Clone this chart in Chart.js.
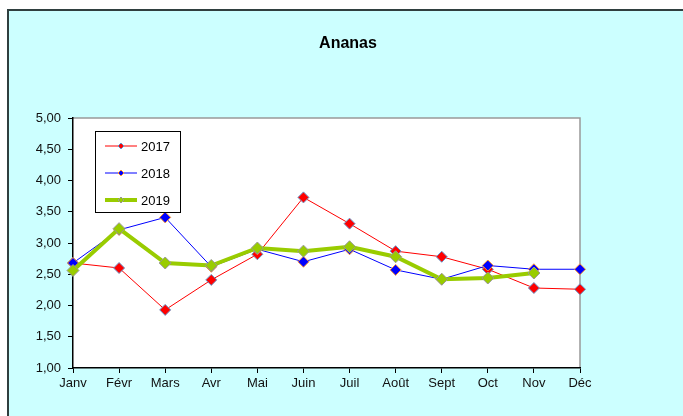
<!DOCTYPE html>
<html>
<head>
<meta charset="utf-8">
<script src="https://cdn.jsdelivr.net/npm/chart.js@4/dist/chart.umd.min.js"></script>
<style>
  body { margin: 0; background: #fff; }
</style>
</head>
<body>
<canvas id="ananasChart" width="683" height="416"></canvas>
<script>
// Données
const months = ['Janv', 'Févr', 'Mars', 'Avr', 'Mai', 'Juin', 'Juil', 'Août', 'Sept', 'Oct', 'Nov', 'Déc'];
const values2017 = [2.68, 2.60, 1.93, 2.41, 2.82, 3.73, 3.31, 2.87, 2.78, 2.58, 2.28, 2.26];
const values2018 = [2.68, 3.21, 3.41, 2.62, 2.90, 2.70, 2.90, 2.57, 2.42, 2.64, 2.58, 2.58];
const values2019 = [2.56, 3.23, 2.68, 2.64, 2.92, 2.87, 2.94, 2.78, 2.42, 2.44, 2.52, null];
const yTickLabels = ['1,00', '1,50', '2,00', '2,50', '3,00', '3,50', '4,00', '4,50', '5,00'];

const chartTitle = 'Ananas';
const FONT = "'Liberation Sans', Arial, sans-serif";

// Fond, cadre, titre et légende
const decorPlugin = {
    id: 'decor',
    beforeDraw(chart) {
        const ctx = chart.ctx;
        const a = chart.chartArea;
        ctx.save();
        ctx.fillStyle = '#ccffff';
        ctx.fillRect(8, 10, chart.width - 8, chart.height - 10);
        ctx.strokeStyle = '#2f3f3f';
        ctx.lineWidth = 2;
        ctx.beginPath();
        ctx.moveTo(8, chart.height);
        ctx.lineTo(8, 10);
        ctx.lineTo(chart.width, 10);
        ctx.stroke();
        ctx.fillStyle = '#ffffff';
        ctx.fillRect(a.left, a.top, a.right - a.left, a.bottom - a.top);
        ctx.strokeStyle = '#999999';
        ctx.lineWidth = 1.5;
        ctx.beginPath();
        ctx.moveTo(a.left, a.top);
        ctx.lineTo(a.right, a.top);
        ctx.lineTo(a.right, a.bottom);
        ctx.stroke();
        ctx.fillStyle = '#000';
        ctx.font = 'bold 16px ' + FONT;
        ctx.textAlign = 'center';
        ctx.textBaseline = 'middle';
        ctx.fillText(chartTitle, 348, 44);
        ctx.restore();
    },
    afterDraw(chart) {
        const ctx = chart.ctx;
        const box = { x: 95, y: 131, w: 85, h: 81 };
        ctx.save();
        ctx.fillStyle = '#fff';
        ctx.fillRect(box.x, box.y, box.w, box.h);
        ctx.strokeStyle = '#000';
        ctx.lineWidth = 1;
        ctx.strokeRect(box.x + 0.5, box.y + 0.5, box.w, box.h);
        chart.data.datasets.forEach(function(ds, i) {
            const y = 146 + i * 27;
            ctx.strokeStyle = ds.borderColor;
            ctx.lineWidth = ds.borderWidth;
            ctx.beginPath();
            ctx.moveTo(105, y);
            ctx.lineTo(137, y);
            ctx.stroke();
            ctx.fillStyle = ds.pointBackgroundColor;
            ctx.strokeStyle = ds.pointBorderColor;
            ctx.lineWidth = 1;
            ctx.beginPath();
            ctx.moveTo(121, y - 3);
            ctx.lineTo(124, y);
            ctx.lineTo(121, y + 3);
            ctx.lineTo(118, y);
            ctx.closePath();
            ctx.fill();
            ctx.stroke();
            ctx.fillStyle = '#000';
            ctx.font = '13px ' + FONT;
            ctx.textAlign = 'left';
            ctx.textBaseline = 'middle';
            ctx.fillText(ds.label, 141, y + 1);
        });
        ctx.restore();
    }
};

const ctx = document.getElementById('ananasChart').getContext('2d');
const ananasChart = new Chart(ctx, {
    type: 'line',
    data: {
        labels: months,
        datasets: [{
            label: '2017',
            data: values2017,
            borderColor: '#ff0000',
            borderWidth: 1,
            pointBackgroundColor: '#ff0000',
            pointBorderColor: '#6699cc',
            pointBorderWidth: 1,
            pointRadius: 5.5,
            order: 2
        }, {
            label: '2018',
            data: values2018,
            borderColor: '#0000ff',
            borderWidth: 1,
            pointBackgroundColor: '#0000ff',
            pointBorderColor: '#ff9933',
            pointBorderWidth: 1,
            pointRadius: 5.5,
            order: 1
        }, {
            label: '2019',
            data: values2019,
            borderColor: '#99cc00',
            borderWidth: 4,
            pointBackgroundColor: '#99cc00',
            pointBorderColor: '#999999',
            pointBorderWidth: 1,
            pointRadius: 6,
            order: 0
        }]
    },
    options: {
        responsive: false,
        animation: false,
        spanGaps: false,
        layout: { padding: { top: 118, right: 103, left: 0, bottom: 0 } },
        elements: {
            line: { tension: 0 },
            point: { pointStyle: 'rectRot' }
        },
        plugins: {
            legend: { display: false },
            title: { display: false },
            tooltip: { enabled: false }
        },
        scales: {
            x: {
                offset: false,
                afterFit: function(scale) { scale.height = 48; },
                grid: { drawOnChartArea: false, drawTicks: true, tickLength: 5, color: '#000' },
                border: { color: '#000', width: 1.5 },
                ticks: { color: '#111', font: { family: FONT, size: 13 }, padding: 3, maxRotation: 0 }
            },
            y: {
                min: 1,
                max: 5,
                afterFit: function(scale) { scale.width = 73; },
                grid: { drawOnChartArea: false, drawTicks: true, tickLength: 5, color: '#000' },
                border: { color: '#000', width: 1.5 },
                ticks: {
                    stepSize: 0.5,
                    color: '#111',
                    font: { family: FONT, size: 13 },
                    padding: 7,
                    callback: function(value, index) { return yTickLabels[index]; }
                }
            }
        }
    },
    plugins: [decorPlugin]
});
</script>
</body>
</html>
